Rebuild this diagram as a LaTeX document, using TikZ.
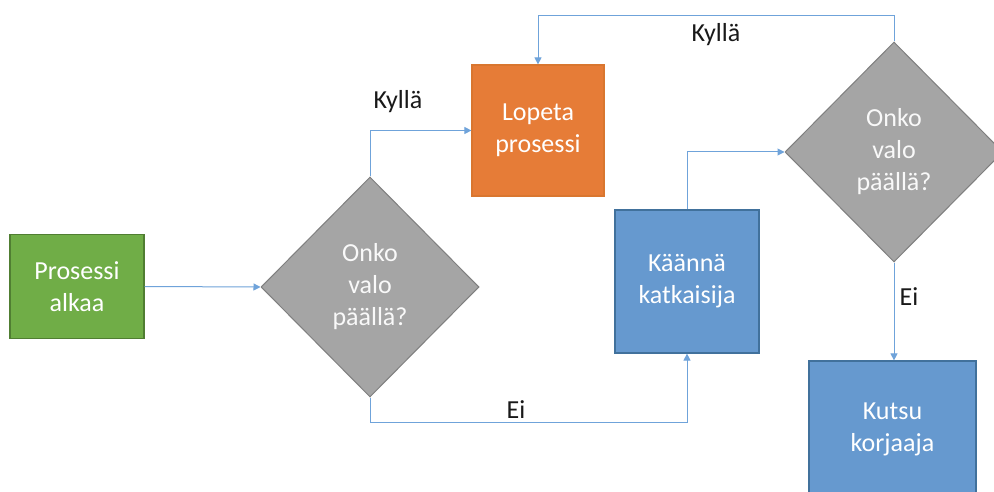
\documentclass[tikz,border=0pt]{standalone}
\usepackage{fontspec}
\setmainfont{Carlito}
\usetikzlibrary{shapes.geometric,arrows.meta}
\definecolor{cgreen}{HTML}{70AD47}
\definecolor{cgreenb}{HTML}{507E32}
\definecolor{corange}{HTML}{E67C37}
\definecolor{corangeb}{HTML}{D9762F}
\definecolor{cblue}{HTML}{6699CF}
\definecolor{cblueb}{HTML}{41719C}
\definecolor{cgray}{HTML}{A5A5A5}
\definecolor{cgrayb}{HTML}{7F7F7F}
\definecolor{cline}{HTML}{6FA3DA}
\tikzset{
  boxtext/.style={text=white,font=\fontsize{26}{32}\selectfont,align=center,inner sep=0pt},
  procbox/.style={boxtext,rectangle,draw,line width=1.2pt},
  decision/.style={boxtext,diamond,draw=cgrayb,fill=cgray,line width=1pt,
     minimum width=218pt,minimum height=220pt,text=white!95!gray},
  conn/.style={draw=cline,line width=1pt,-{Triangle[length=7pt,width=7pt]}},
  lbl/.style={font=\fontsize{26}{32}\selectfont,text=black!90,inner sep=0pt}
}
\begin{document}
\begin{tikzpicture}[x=1pt,y=-1pt]
\useasboundingbox (0,0) rectangle (994,492);
\clip (0,0) rectangle (994,492);
\fill[white] (0,0) rectangle (994,492);
\node[procbox,draw=cgreenb,fill=cgreen,minimum width=134pt,minimum height=104pt] (start) at (77,286.5) {Prosessi\\alkaa};
\node[decision] (d1) at (370,287) {Onko\\valo\\päällä?};
\node[procbox,draw=corangeb,fill=corange,minimum width=132pt,minimum height=131pt] (stop) at (538,130.5) {Lopeta\\prosessi};
\node[procbox,draw=cblueb,fill=cblue,minimum width=144pt,minimum height=143pt] (flip) at (687,281.5) {Käännä\\katkaisija};
\node[decision] (d2) at (894,152) {Onko\\valo\\päällä?};
\node[procbox,draw=cblueb,fill=cblue,minimum width=167pt,minimum height=136pt] (call) at (892.5,429) {Kutsu\\korjaaja};
\coordinate (c1) at (370,422);
\coordinate (c2) at (894,16);
\draw[conn] (start.east) -- (d1.west);
\draw[conn] (d1.north) |- (stop.west);
\draw[conn] (d1.south) -- (c1) -| (flip.south);
\draw[conn] (flip.north) |- (d2.west);
\draw[conn] (d2.north) -- (c2) -| (stop.north);
\draw[conn] (d2.south) -- (d2.south |- call.north);
\node[lbl] (l1) at (398,102) {Kyllä};
\node[lbl] (l2) at (716,35) {Kyllä};
\node[lbl] (l3) at (516,410) {Ei};
\node[lbl] (l4) at (909,297) {Ei};
\end{tikzpicture}
\end{document}
